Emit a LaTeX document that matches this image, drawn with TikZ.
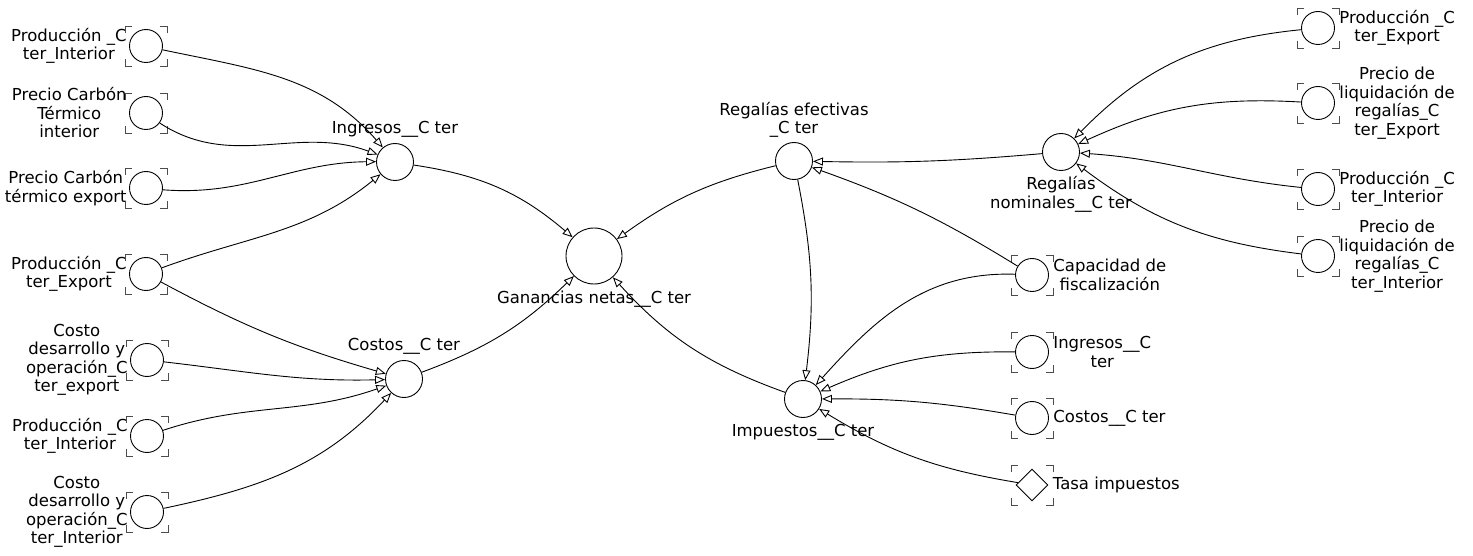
\documentclass[tikz,border=0pt]{standalone}
\usepackage{fontspec}
\setmainfont{DejaVu Sans}
\usetikzlibrary{arrows.meta,shapes.geometric}

% corner marks round a shadow variable
\newcommand{\ghostmarks}[1]{%
  \foreach \sx/\sy in {-1/-1,1/-1,1/1,-1/1}
    \draw [bracket] ([shift={(\sx*21,\sy*13)}]#1.center)
      -- ([shift={(\sx*21,\sy*20)}]#1.center)
      -- ([shift={(\sx*14,\sy*20)}]#1.center);}

\begin{document}
\begin{tikzpicture}[x=1pt, y=-1pt, line width=0.9pt,
        font=\fontsize{16.5}{18.5}\selectfont,
        aux/.style={circle,draw,inner sep=0pt,minimum size=33pt},
        var/.style={aux,minimum size=37pt},
        const/.style={diamond,draw,inner sep=0pt,minimum size=32pt},
        lbl/.style={align=center,inner sep=0pt},
        every label/.style={lbl},
        label distance=2pt,
        link/.style={-{Triangle[open,length=10pt,width=8pt]}},
        bracket/.style={black!70}]

    \useasboundingbox (0,0) rectangle (1473,556);

    % inputs on the left
    \node [aux,label={left:{Producción \_C\\ter\_Interior}}] (prodIntL) at (146,46) {};
    \node [aux,label={left:{Precio Carbón\\Térmico\\interior}}] (precioTermInt) at (146,113) {};
    \node [aux,label={left:{Precio Carbón\\térmico export}}] (precioTermExp) at (146,188) {};
    \node [aux,label={left:{Producción \_C\\ter\_Export}}] (prodExpL) at (146,274) {};
    \node [aux,label={left:{Costo\\desarrollo y\\operación\_C\\ter\_export}}] (costoExp) at (147,360) {};
    \node [aux,label={left:{Producción \_C\\ter\_Interior}}] (prodIntL2) at (147,436) {};
    \node [aux,label={left:{Costo\\desarrollo y\\operación\_C\\ter\_Interior}}] (costoInt) at (147,512) {};

    % middle
    \node [var,label={[label distance=5pt]above:{Ingresos\_\_C ter}}] (ingresos) at (395,162) {};
    \node [var,label={[label distance=5pt]above:{Costos\_\_C ter}}] (costos) at (404,379) {};
    \node [aux,minimum size=56pt,label={[label distance=6pt]below:{Ganancias netas\_\_C ter}}] (ganancias) at (594,256) {};
    \node [var,label={[label distance=4pt]above:{Regalías efectivas\\\_C ter}}] (regEf) at (794,161) {};
    \node [var,label={[label distance=6pt]below:{Impuestos\_\_C ter}}] (impuestos) at (803,399) {};
    \node [var,label={[label distance=5pt]below:{Regalías\\nominales\_\_C ter}}] (regNom) at (1061,152) {};

    % inputs on the right
    \node [aux,label={[label distance=4pt]right:{Capacidad de\\fiscalización}}] (capFisc) at (1032,275) {};
    \node [aux,label={[label distance=4pt]right:{Ingresos\_\_C\\ter}}] (ingresosR) at (1032,352) {};
    \node [aux,label={[label distance=4pt]right:{Costos\_\_C ter}}] (costosR) at (1032,418) {};
    \node [const,label={[label distance=4pt]right:{Tasa impuestos}}] (tasa) at (1032,485) {};
    \node [aux,label={[label distance=4pt]right:{Producción \_C\\ter\_Export}}] (prodExpR) at (1318,28) {};
    \node [aux,label={[label distance=4pt]right:{Precio de\\liquidación de\\regalías\_C\\ter\_Export}}] (precioLiqExp) at (1318,103) {};
    \node [aux,label={[label distance=4pt]right:{Producción \_C\\ter\_Interior}}] (prodIntR) at (1318,189) {};
    \node [aux,label={[label distance=4pt]right:{Precio de\\liquidación de\\regalías\_C\\ter\_Interior}}] (precioLiqInt) at (1318,256) {};

    \foreach \n in {prodIntL,precioTermInt,precioTermExp,prodExpL,costoExp,prodIntL2,costoInt,
                    capFisc,ingresosR,costosR,tasa,prodExpR,precioLiqExp,prodIntR,precioLiqInt}
        {\ghostmarks{\n}}

    % links
    \path [link] (prodIntL) edge[out=12,in=155,relative] (ingresos);
    \path [link] (precioTermInt) edge[out=-25,in=168,relative] (ingresos);
    \path [link] (precioTermExp) edge[out=-12,in=173,relative] (ingresos);
    \path [link] (prodExpL) edge[out=-3,in=196,relative] (ingresos);
    \path [link] (prodExpL) edge[bend right=6] (costos);
    \path [link] (costoExp) edge[out=-2,in=186,relative] (costos);
    \path [link] (prodIntL2) edge[out=7,in=188,relative] (costos);
    \path [link] (costoInt) edge[out=-15,in=200,relative] (costos);

    \path [link] (ingresos) edge[bend left=16] (ganancias);
    \path [link] (costos) edge[bend right=12] (ganancias);
    \path [link] (regEf) edge[bend right=11] (ganancias);
    \path [link] (impuestos) edge[bend left=14] (ganancias);
    \path [link] (regEf) edge[bend left=9] (impuestos);
    \path [link] (regNom) edge[bend left=3] (regEf);

    \path [link] (capFisc) edge[bend right=6] (regEf);
    \path [link] (capFisc) edge[out=-31,in=199,relative] (impuestos);
    \path [link] (ingresosR) edge[bend right=12] (impuestos);
    \path [link] (costosR) edge[bend right=5] (impuestos);
    \path [link] (tasa) edge[bend left=11] (impuestos);

    \path [link] (prodExpR) edge[bend right=20] (regNom);
    \path [link] (precioLiqExp) edge[bend right=14] (regNom);
    \path [link] (prodIntR) edge[out=3,in=185,relative] (regNom);
    \path [link] (precioLiqInt) edge[bend left=15] (regNom);
\end{tikzpicture}
\end{document}
